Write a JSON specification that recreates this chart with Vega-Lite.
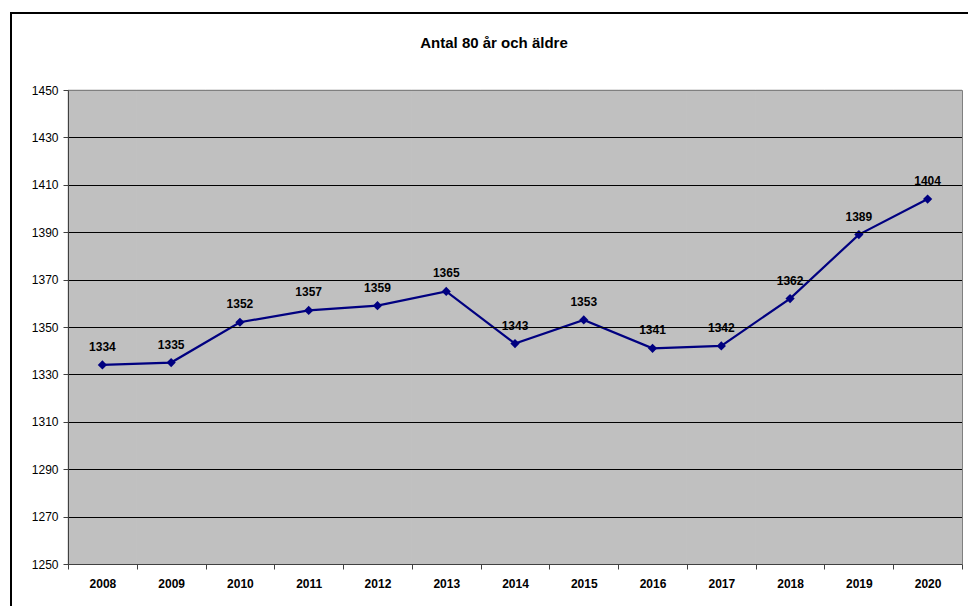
{
  "$schema": "https://vega.github.io/schema/vega-lite/v6.json",
  "width": 966,
  "height": 600,
  "autosize": "none",
  "padding": {"left": 11, "top": 13, "right": 0, "bottom": 0},
  "background": "white",
  "title": {
    "text": "Antal 80 år och äldre",
    "font": "Liberation Sans",
    "fontSize": 15,
    "fontWeight": "bold",
    "color": "black",
    "anchor": "middle",
    "frame": "group",
    "offset": -38
  },
  "data": {
    "values": [
      {"year": 2008, "value": 1334},
      {"year": 2009, "value": 1335},
      {"year": 2010, "value": 1352},
      {"year": 2011, "value": 1357},
      {"year": 2012, "value": 1359},
      {"year": 2013, "value": 1365},
      {"year": 2014, "value": 1343},
      {"year": 2015, "value": 1353},
      {"year": 2016, "value": 1341},
      {"year": 2017, "value": 1342},
      {"year": 2018, "value": 1362},
      {"year": 2019, "value": 1389},
      {"year": 2020, "value": 1404}
    ]
  },
  "encoding": {
    "x": {
      "field": "year",
      "type": "ordinal",
      "scale": {"type": "band", "range": [57, 951], "paddingInner": 0, "paddingOuter": 0},
      "axis": {
        "title": null,
        "offset": -49,
        "zindex": 1,
        "domainColor": "#404040",
        "tickColor": "#404040",
        "tickSize": 5,
        "tickBand": "extent",
        "labelAngle": 0,
        "labelFont": "Liberation Sans",
        "labelFontSize": 12,
        "labelFontWeight": "bold",
        "labelColor": "black",
        "labelPadding": 9,
        "grid": false
      }
    }
  },
  "layer": [
    {
      "mark": {"type": "rect", "color": "#c0c0c0", "stroke": "#c0c0c0", "strokeWidth": 1},
      "encoding": {
        "y": {
          "datum": 1250,
          "type": "quantitative",
          "scale": {"domain": [1250, 1450], "range": [551, 77], "nice": false, "zero": false},
          "axis": {
            "title": null,
            "orient": "right",
            "offset": -15,
            "zindex": 1,
            "labels": false,
            "ticks": false,
            "grid": false,
            "domainColor": "#808080"
          }
        },
        "y2": {"datum": 1450}
      }
    },
    {
      "encoding": {
        "y": {
          "field": "value",
          "type": "quantitative",
          "scale": {"domain": [1250, 1450], "range": [551, 77], "nice": false, "zero": false},
          "axis": {
            "title": null,
            "orient": "left",
            "offset": -57,
            "zindex": 1,
            "format": "d",
            "values": [1250, 1270, 1290, 1310, 1330, 1350, 1370, 1390, 1410, 1430, 1450],
            "domainColor": "#404040",
            "tickColor": "#404040",
            "tickSize": 5,
            "labelFont": "Liberation Sans",
            "labelFontSize": 12,
            "labelColor": "black",
            "labelPadding": 5,
            "grid": true,
            "gridColor": {"condition": {"test": "datum.value === 1450", "value": "#808080"}, "value": "#000000"},
            "gridWidth": 1
          }
        }
      },
      "layer": [
        {
          "mark": {"type": "line", "color": "#000080", "strokeWidth": 2.2}
        },
        {
          "mark": {"type": "point", "shape": "diamond", "filled": true, "size": 85, "color": "#000080", "opacity": 1}
        },
        {
          "mark": {"type": "text", "font": "Liberation Sans", "fontSize": 12, "fontWeight": "bold", "color": "black", "dy": -14, "baseline": "alphabetic"},
          "encoding": {
            "text": {"field": "value", "type": "quantitative"}
          }
        }
      ]
    }
  ],
  "resolve": {"axis": {"y": "independent"}},
  "config": {
    "view": {"stroke": "black", "strokeWidth": 2, "fill": "white"}
  }
}
